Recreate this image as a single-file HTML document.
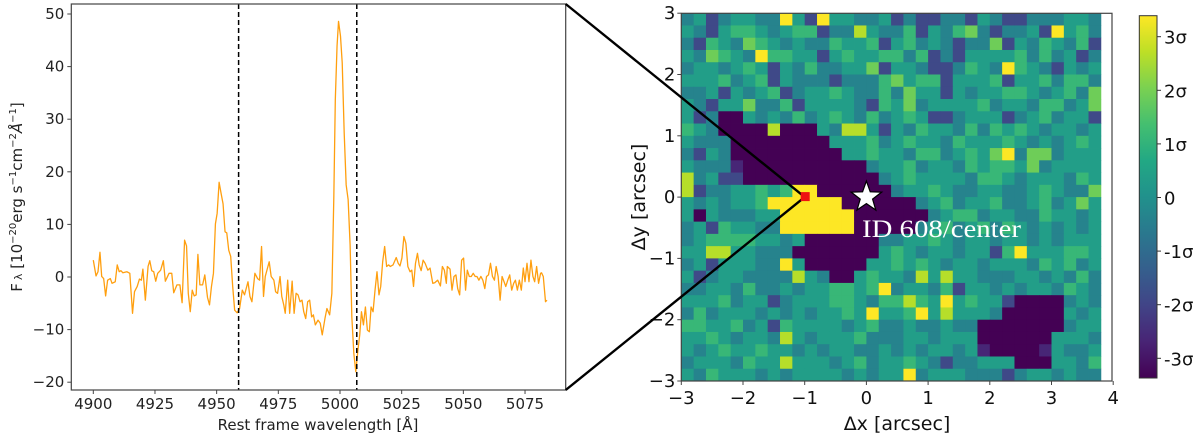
<!DOCTYPE html>
<html><head><meta charset="utf-8"><style>
html,body{margin:0;padding:0;background:#fff;}
svg{display:block;font-family:"DejaVu Sans","Liberation Sans",sans-serif;}
</style></head><body>
<svg id="fig" width="1200" height="439" viewBox="0 0 1200 439" xmlns="http://www.w3.org/2000/svg">
<defs>
<linearGradient id="vir" x1="0" y1="1" x2="0" y2="0">
<stop offset="0" stop-color="#440154"/><stop offset="0.1" stop-color="#482475"/><stop offset="0.2" stop-color="#414487"/><stop offset="0.3" stop-color="#355f8d"/><stop offset="0.4" stop-color="#2a788e"/><stop offset="0.5" stop-color="#21918c"/><stop offset="0.6" stop-color="#22a884"/><stop offset="0.7" stop-color="#44bf70"/><stop offset="0.8" stop-color="#7ad151"/><stop offset="0.9" stop-color="#bddf26"/><stop offset="1" stop-color="#fde725"/>
</linearGradient>
</defs>
<g id="spec"></g>
<g id="map"></g>
<g id="cbar"></g>
<g id="over"></g>
</svg>
<script>
// ---- spectrum data ----
const wavelengths = [4900.0,4901.1,4901.9,4902.7,4903.4,4904.2,4905.0,4905.8,4906.9,4907.6,4908.9,4909.7,4910.5,4911.2,4912.0,4913.6,4914.8,4915.9,4916.7,4917.8,4918.7,4919.5,4920.1,4921.1,4922.2,4922.9,4923.7,4924.5,4925.3,4926.1,4927.3,4928.4,4929.2,4930.7,4931.8,4932.6,4933.9,4935.1,4936.0,4937.0,4937.8,4938.5,4939.3,4940.1,4940.9,4941.7,4942.4,4943.2,4944.3,4945.2,4946.3,4947.1,4947.9,4948.7,4949.5,4950.2,4951.0,4951.8,4952.6,4953.4,4954.1,4954.9,4955.7,4956.5,4957.3,4958.3,4959.3,4960.4,4961.3,4962.7,4963.5,4964.3,4965.5,4966.6,4967.4,4968.2,4969.0,4969.7,4971.3,4972.1,4973.2,4973.9,4974.7,4975.7,4976.4,4977.2,4977.8,4978.8,4979.6,4980.6,4981.4,4982.2,4983.0,4983.8,4984.6,4985.3,4986.1,4986.9,4987.7,4988.5,4989.2,4990.0,4991.1,4992.0,4992.8,4993.9,4994.7,4995.8,4996.7,4997.5,4998.1,4998.8,4999.4,5000.2,5000.9,5001.7,5002.5,5003.3,5004.1,5004.8,5005.6,5006.4,5007.2,5008.0,5008.7,5009.5,5010.3,5011.1,5011.9,5012.6,5013.4,5014.2,5015.0,5015.8,5016.5,5017.3,5018.1,5018.9,5019.7,5020.4,5021.5,5022.8,5023.6,5024.3,5025.1,5025.9,5026.7,5027.5,5028.4,5029.1,5029.8,5030.6,5031.4,5032.1,5032.9,5033.7,5034.5,5035.6,5036.5,5037.6,5038.4,5039.6,5040.7,5041.5,5042.3,5043.1,5043.5,5044.6,5045.4,5046.2,5047.0,5047.7,5048.5,5049.3,5050.1,5050.9,5051.6,5052.4,5053.2,5054.0,5054.8,5055.5,5056.3,5057.1,5057.9,5058.7,5059.4,5060.2,5061.0,5061.8,5062.6,5063.3,5064.1,5064.9,5065.7,5066.5,5067.2,5068.0,5068.8,5069.6,5070.4,5071.1,5071.9,5072.7,5073.5,5074.3,5075.0,5075.8,5076.6,5077.4,5078.2,5078.9,5079.7,5080.5,5081.3,5081.7,5082.4,5083.3,5083.9];
const fluxes = [3.2,0.2,1.0,4.7,0.1,-0.3,-3.6,-0.6,-0.3,-1.2,-0.9,2.3,1.0,1.2,0.8,1.0,0.7,-6.9,-2.8,-1.8,-0.4,-0.6,1.5,-4.4,2.0,3.1,1.2,1.0,-0.8,0.7,1.3,3.1,-0.8,0.7,0.7,-3.0,-1.5,-1.5,-4.9,7.0,5.9,-3.1,-6.6,-2.5,-3.6,-3.4,4.3,-1.5,-1.5,0.4,-3.9,-5.3,-1.8,0.7,10.1,12.1,18.0,15.9,13.9,8.6,8.4,5.1,3.9,-1.8,-6.3,-6.8,-6.0,-2.5,-3.4,-0.9,-3.7,-4.7,0.7,-0.3,-0.6,5.8,-3.7,0.1,2.9,0.1,-0.6,-2.8,-3.1,0.1,-3.7,-5.3,-6.9,-0.6,-6.9,-0.8,-6.9,-3.1,-3.4,-4.7,-4.4,-6.6,-7.9,-4.7,-4.4,-7.6,-7.2,-9.1,-8.2,-8.8,-11.0,-7.9,-6.0,-7.2,-3.1,15.3,33.7,43.9,48.6,45.8,40.7,27.4,17.5,14.7,6.1,-7.6,-14.5,-18.0,-14.2,-11.0,-6.6,-9.1,-5.7,-10.1,-10.4,-5.7,-6.6,-2.5,1.0,-3.4,-1.8,2.9,5.8,2.0,2.3,2.0,2.3,3.7,2.6,2.1,3.6,7.7,6.4,2.0,1.0,1.3,-1.8,2.6,4.5,2.3,1.2,3.2,2.6,1.3,1.7,-1.2,-1.1,-0.6,-1.7,2.0,1.3,-1.2,2.0,1.5,-2.5,0.1,0.4,-2.2,-3.4,3.2,3.6,-2.5,1.3,0.1,0.1,0.7,0.1,0.1,-0.6,0.1,-0.6,-2.2,0.1,0.4,2.6,0.1,-0.6,2.0,0.1,-4.4,0.1,-0.9,-1.8,-0.6,0.4,-2.5,-1.2,-0.6,-2.5,-0.6,-2.5,1.7,-0.9,2.6,-0.9,3.2,0.1,-0.9,2.0,-1.2,0.7,0.8,0.1,-4.7,-4.4];
const lineMarkers = [4958.9, 5006.8];
const xTicks = [4900,4925,4950,4975,5000,5025,5050,5075];
const yTicks = [-20,-10,0,10,20,30,40,50];

// ---- map data (levels 0..9 from -3.4σ to +3.4σ), rows top→bottom ----
const mapRows = [
"4524554495295544524224425422444554",
"5425665456624485446254674244529564",
"4265476545446556256454244725465462",
"5476549665525655664624255556464524",
"4554565254644557255422465496542545",
"5556456254442444675662555625564664",
"4452545624556544647552545566545647",
"5425574462555542657455556455466457",
"5240054546456546456522455524564552",
"6540000800054885254655464656545545",
"5444000000005556456554655565454565",
"4254000000000556554664565794774555",
"5444100000000004556455465665745555",
"8452200000000000456555546654555465",
"8244556569900000045565445544565447",
"5454556999999000000456455644564575",
"5054445599999900000045664554465545",
"4526554499999900000456456465454545",
"4566665545000000445565455455454555",
"5588554440000000565455455269555665",
"4525554495000005565654554555465645",
"5245544448540056554858554445545464",
"4455464454556656945546255454554654",
"5556455245556654668659565520000454",
"4645554545455659556958555400000545",
"6655645265555456445445440000000455",
"5565455485455564445545550000005554",
"5456556554545544545455451000015445",
"4555465585554564556542445550005546",
"5465554545555454559455544424554544"];
const mapXTicks = [-3,-2,-1,0,1,2,3,4];
const mapYTicks = [-3,-2,-1,0,1,2,3];
const cbarTicks = [3,2,1,0,-1,-2,-3];
const cbarLabels = ["3σ","2σ","1σ","0","-1σ","-2σ","-3σ"];
const sourceX = -1, sourceY = 0;
const starX = 0, starY = 0;

const NS = "http://www.w3.org/2000/svg";
function mk(parent, tag, attrs, text){
  const e = document.createElementNS(NS, tag);
  for (const k in attrs) e.setAttribute(k, attrs[k]);
  if (text !== undefined) e.textContent = text;
  parent.appendChild(e);
  return e;
}
// ---------- spectrum ----------
const L = {x0:71.3, x1:565.7, y0:4, y1:390};
const sx = w => 93.3 + (w - 4900) * 2.467;
const sy = f => 277 - f * 5.26;
const spec = document.getElementById('spec');
{
  let d = '';
  for (let i = 0; i < Math.min(wavelengths.length, fluxes.length); i++) {
    d += (i ? 'L' : 'M') + sx(wavelengths[i]).toFixed(2) + ',' + sy(fluxes[i]).toFixed(2);
  }
  const p = mk(spec, 'path', {d:d, fill:'none', stroke:'#ff9f0f', 'stroke-width':1.3, 'stroke-linejoin':'round'});
  
  
  lineMarkers.forEach(w => {
    const l = mk(spec, 'line', {x1:sx(w), x2:sx(w), y1:L.y0, y2:L.y1, stroke:'#000', 'stroke-width':1.5, 'stroke-dasharray':'5,3'});
    
    
  });
  const fr = mk(spec, 'rect', {x:L.x0, y:L.y0, width:L.x1-L.x0, height:L.y1-L.y0, fill:'none', stroke:'#444', 'stroke-width':1.2});
  
  
  xTicks.forEach(t => {
    mk(spec, 'line', {x1:sx(t), x2:sx(t), y1:L.y1, y2:L.y1+4, stroke:'#444', 'stroke-width':1});
    const tx = mk(spec, 'text', {x:sx(t), y:L.y1+19, 'font-size':15, 'text-anchor':'middle', fill:'#222'}, String(t));
    
    
  });
  yTicks.forEach(t => {
    mk(spec, 'line', {x1:L.x0-4, x2:L.x0, y1:sy(t), y2:sy(t), stroke:'#444', 'stroke-width':1});
    const tx = mk(spec, 'text', {x:L.x0-7, y:sy(t)+5, 'font-size':15, 'text-anchor':'end', fill:'#222'}, String(t).replace('-', '−'));
    
    
  });
}
// ---------- map ----------
const M = {x0:681.3, y1:381, x1:1112, y0:13.3};
const mx = v => 681.3 + (v + 3) * 61.7;
const my = v => 381 - (v + 3) * 61.3;
function viridis(t){
  const s = ["#440154","#482475","#414487","#355f8d","#2a788e","#21918c","#22a884","#44bf70","#7ad151","#bddf26","#fde725"];
  t = Math.max(0, Math.min(1, t));
  const f = t * 10, i = Math.min(9, Math.floor(f)), u = f - i;
  const a = s[i], b = s[i+1];
  const c = k => Math.round(parseInt(a.substr(k,2),16)*(1-u) + parseInt(b.substr(k,2),16)*u);
  return 'rgb(' + c(1) + ',' + c(3) + ',' + c(5) + ')';
}
const map = document.getElementById('map');
{
  mapRows.forEach((row, r) => {
    for (let c = 0; c < row.length; c++) {
      const sigma = -3.4 + (+row[c]) * (6.8 / 9);
      const xa = -3 + c * 0.2, ya = 3 - r * 0.2;
      const x = mx(xa), y = my(ya);
      const cell = mk(map, 'rect', {x:x.toFixed(2), y:y.toFixed(2), width:(mx(xa+0.2)-x+0.4).toFixed(2), height:(my(ya-0.2)-y+0.4).toFixed(2), fill:viridis((sigma + 3.37) / 6.76)});
      
      
    }
  });
  const fr = mk(map, 'rect', {x:M.x0, y:M.y0, width:M.x1-M.x0, height:M.y1-M.y0, fill:'none', stroke:'#444', 'stroke-width':1.2});
  
  
  mapXTicks.forEach(t => {
    mk(map, 'line', {x1:mx(t), x2:mx(t), y1:M.y1, y2:M.y1+4, stroke:'#444'});
    const tx = mk(map, 'text', {x:mx(t), y:M.y1+23, 'font-size':18, 'text-anchor':'middle', fill:'#111'}, String(t).replace('-', '−'));
    
    
  });
  mapYTicks.forEach(t => {
    mk(map, 'line', {x1:M.x0-4, x2:M.x0, y1:my(t), y2:my(t), stroke:'#444'});
    const tx = mk(map, 'text', {x:M.x0-6, y:my(t)+6, 'font-size':18, 'text-anchor':'end', fill:'#111'}, String(t).replace('-', '−'));
    
    
  });
}
// ---------- colorbar ----------
const C = {x0:1139.3, x1:1157, y0:15.7, y1:378};
const cy = v => 197.5 - v * 53.6;
const cb = document.getElementById('cbar');
{
  const r = mk(cb, 'rect', {x:C.x0, y:C.y0, width:C.x1-C.x0, height:C.y1-C.y0, fill:'url(#vir)', stroke:'#333', 'stroke-width':1});
  
  
  cbarTicks.forEach((t, i) => {
    mk(cb, 'line', {x1:C.x1, x2:C.x1+4, y1:cy(t), y2:cy(t), stroke:'#333'});
    const tx = mk(cb, 'text', {x:C.x1+7, y:cy(t)+7, 'font-size':18, fill:'#111'}, cbarLabels[i]);
    
    
  });
}
// ---------- overlays ----------
const ov = document.getElementById('over');
{
  const px = mx(sourceX), py = my(sourceY);
  [[L.x1, L.y0], [L.x1, L.y1]].forEach(([x, y]) => {
    const l = mk(ov, 'line', {x1:x, y1:y, x2:px, y2:py, stroke:'#000', 'stroke-width':2.4});
    
    
  });
  const red = mk(ov, 'rect', {x:px-4, y:py-5, width:9, height:9, fill:'#ee1111'});
  
  
  const cx = mx(starX), cyy = my(starY);
  let d = '';
  for (let k = 0; k < 10; k++) {
    const R = k % 2 ? 6.5 : 16, a = -Math.PI/2 + k * Math.PI/5;
    d += (k ? 'L' : 'M') + (cx + R*Math.cos(a)).toFixed(2) + ',' + (cyy + R*Math.sin(a)).toFixed(2);
  }
  const st = mk(ov, 'path', {d:d + 'Z', fill:'#fff', stroke:'#000', 'stroke-width':1.2});
  
  
}
</script>
<div style="position:absolute;left:0;top:0;width:1200px;height:439px;pointer-events:none;">
<svg width="1200" height="439" style="position:absolute;left:0;top:0;font-family:'DejaVu Sans','Liberation Sans',sans-serif;">
<text x="862" y="237" font-family="Liberation Serif, serif" font-size="25" fill="#fff" textLength="159" lengthAdjust="spacingAndGlyphs">ID 608/center</text>
<text x="318" y="430" font-size="15" text-anchor="middle" fill="#222">Rest frame wavelength [Å]</text>
<text transform="translate(22,197) rotate(-90)" font-size="15" text-anchor="middle" fill="#222">F<tspan font-size="11" dx="3">λ</tspan> [10<tspan font-size="10" dy="-6">−20</tspan><tspan dy="6">erg s</tspan><tspan font-size="10" dy="-6">−1</tspan><tspan dy="6">cm</tspan><tspan font-size="10" dy="-6">−2</tspan><tspan dy="6" font-style="italic">Å</tspan><tspan font-size="10" dy="-6">−1</tspan><tspan dy="6">]</tspan></text>
<text x="897" y="430" font-size="19" text-anchor="middle" fill="#111">Δx [arcsec]</text>
<text transform="translate(645,197) rotate(-90)" font-size="19" text-anchor="middle" fill="#111">Δy [arcsec]</text>
</svg>
</div>
</body></html>
